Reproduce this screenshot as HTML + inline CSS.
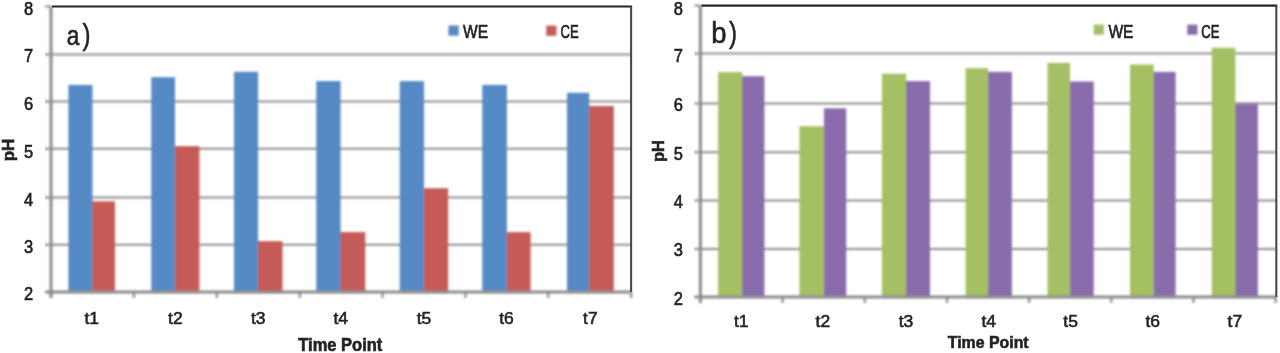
<!DOCTYPE html>
<html><head><meta charset="utf-8"><title>pH charts</title>
<style>
html,body{margin:0;padding:0;background:#fff;}
body{width:1280px;height:353px;overflow:hidden;}
svg{display:block;}
svg text{font-family:"Liberation Sans", sans-serif;fill:#222;stroke:#222;stroke-width:0.55px;}
</style></head>
<body>
<svg width="1280" height="353" viewBox="0 0 1280 353">
<defs>
<filter id="fg" x="-2%" y="-10%" width="104%" height="120%"><feGaussianBlur stdDeviation="0.7 0.85"/></filter>
<filter id="fb" x="-2%" y="-10%" width="104%" height="120%"><feGaussianBlur stdDeviation="0.8 1.0"/></filter>
<filter id="fl" x="-2%" y="-10%" width="104%" height="120%"><feGaussianBlur stdDeviation="0.8 0.9"/></filter>
<filter id="ft" x="-2%" y="-10%" width="104%" height="120%"><feGaussianBlur stdDeviation="0.45 0.6"/></filter>
<filter id="fd" x="-2%" y="-10%" width="104%" height="120%"><feGaussianBlur stdDeviation="0.5 0.55"/></filter>
</defs>
<rect width="1280" height="353" fill="#fff"/>
<g filter="url(#fg)">
<line x1="45.0" y1="54.6" x2="631.1" y2="54.6" stroke="#8e8e8e" stroke-width="2"/>
<line x1="45.0" y1="101.55" x2="631.1" y2="101.55" stroke="#8e8e8e" stroke-width="2"/>
<line x1="45.0" y1="148.85" x2="631.1" y2="148.85" stroke="#8e8e8e" stroke-width="2"/>
<line x1="45.0" y1="197.55" x2="631.1" y2="197.55" stroke="#8e8e8e" stroke-width="2"/>
<line x1="45.0" y1="244.7" x2="631.1" y2="244.7" stroke="#8e8e8e" stroke-width="2"/>
<line x1="694.4" y1="53.6" x2="1276.3" y2="53.6" stroke="#8e8e8e" stroke-width="2"/>
<line x1="694.4" y1="103.4" x2="1276.3" y2="103.4" stroke="#8e8e8e" stroke-width="2"/>
<line x1="694.4" y1="152.25" x2="1276.3" y2="152.25" stroke="#8e8e8e" stroke-width="2"/>
<line x1="694.4" y1="200.45" x2="1276.3" y2="200.45" stroke="#8e8e8e" stroke-width="2"/>
<line x1="694.4" y1="248.9" x2="1276.3" y2="248.9" stroke="#8e8e8e" stroke-width="2"/>
</g>
<g filter="url(#fb)">
<rect x="68.40" y="84.9" width="24.10" height="207.0" fill="#568AC4"/>
<rect x="92.00" y="201.3" width="1.5" height="90.6" fill="#568AC4"/>
<rect x="92.50" y="201.3" width="22.50" height="90.6" fill="#C65A56"/>
<rect x="151.25" y="77.2" width="23.75" height="214.8" fill="#568AC4"/>
<rect x="174.50" y="146.3" width="1.5" height="145.6" fill="#568AC4"/>
<rect x="175.00" y="146.3" width="24.40" height="145.6" fill="#C65A56"/>
<rect x="234.00" y="71.8" width="24.10" height="220.1" fill="#568AC4"/>
<rect x="257.60" y="241.2" width="1.5" height="50.8" fill="#568AC4"/>
<rect x="258.10" y="241.2" width="24.40" height="50.8" fill="#C65A56"/>
<rect x="316.25" y="81.1" width="24.35" height="210.8" fill="#568AC4"/>
<rect x="340.10" y="232.1" width="1.5" height="59.8" fill="#568AC4"/>
<rect x="340.60" y="232.1" width="24.65" height="59.8" fill="#C65A56"/>
<rect x="399.75" y="81.1" width="24.25" height="210.8" fill="#568AC4"/>
<rect x="423.50" y="188.2" width="1.5" height="103.8" fill="#568AC4"/>
<rect x="424.00" y="188.2" width="24.10" height="103.8" fill="#C65A56"/>
<rect x="482.25" y="84.9" width="24.65" height="207.0" fill="#568AC4"/>
<rect x="506.40" y="232.1" width="1.5" height="59.8" fill="#568AC4"/>
<rect x="506.90" y="232.1" width="23.70" height="59.8" fill="#C65A56"/>
<rect x="567.00" y="92.8" width="22.20" height="199.1" fill="#568AC4"/>
<rect x="588.70" y="106.0" width="1.5" height="185.9" fill="#568AC4"/>
<rect x="589.20" y="106.0" width="24.60" height="185.9" fill="#C65A56"/>
<rect x="448.5" y="25.5" width="10.2" height="10.2" fill="#568AC4"/>
<rect x="546.2" y="25.6" width="10.2" height="10.2" fill="#C65A56"/>
<rect x="718.10" y="72.1" width="24.15" height="224.8" fill="#A5C064"/>
<rect x="741.75" y="76.2" width="1.5" height="220.7" fill="#A5C064"/>
<rect x="742.25" y="76.2" width="22.15" height="220.7" fill="#896CAC"/>
<rect x="799.40" y="126.2" width="24.60" height="170.7" fill="#A5C064"/>
<rect x="823.50" y="126.2" width="1.5" height="170.7" fill="#A5C064"/>
<rect x="824.00" y="108.3" width="22.25" height="188.6" fill="#896CAC"/>
<rect x="881.90" y="73.7" width="24.35" height="223.2" fill="#A5C064"/>
<rect x="905.75" y="81.1" width="1.5" height="215.8" fill="#A5C064"/>
<rect x="906.25" y="81.1" width="23.75" height="215.8" fill="#896CAC"/>
<rect x="965.60" y="68.2" width="22.50" height="228.7" fill="#A5C064"/>
<rect x="987.60" y="71.9" width="1.5" height="225.0" fill="#A5C064"/>
<rect x="988.10" y="71.9" width="23.80" height="225.0" fill="#896CAC"/>
<rect x="1047.50" y="62.9" width="22.50" height="234.0" fill="#A5C064"/>
<rect x="1069.50" y="81.5" width="1.5" height="215.4" fill="#A5C064"/>
<rect x="1070.00" y="81.5" width="23.75" height="215.4" fill="#896CAC"/>
<rect x="1130.00" y="64.6" width="23.75" height="232.3" fill="#A5C064"/>
<rect x="1153.25" y="71.9" width="1.5" height="225.0" fill="#A5C064"/>
<rect x="1153.75" y="71.9" width="21.85" height="225.0" fill="#896CAC"/>
<rect x="1211.80" y="47.8" width="23.60" height="249.1" fill="#A5C064"/>
<rect x="1234.90" y="103.6" width="1.5" height="193.3" fill="#A5C064"/>
<rect x="1235.40" y="103.6" width="22.50" height="193.3" fill="#896CAC"/>
<rect x="1093.7" y="24.6" width="10.2" height="10.2" fill="#A5C064"/>
<rect x="1187.3" y="24.6" width="10.2" height="10.2" fill="#896CAC"/>
</g>
<g filter="url(#fl)">
<line x1="45.0" y1="291.95" x2="631.1" y2="291.95" stroke="#8a8a8a" stroke-width="3"/>
<line x1="51.0" y1="291.95" x2="51.0" y2="297.9" stroke="#8a8a8a" stroke-width="2.2"/>
<line x1="133.9" y1="291.95" x2="133.9" y2="297.9" stroke="#8a8a8a" stroke-width="2.2"/>
<line x1="216.8" y1="291.95" x2="216.8" y2="297.9" stroke="#8a8a8a" stroke-width="2.2"/>
<line x1="299.7" y1="291.95" x2="299.7" y2="297.9" stroke="#8a8a8a" stroke-width="2.2"/>
<line x1="382.5" y1="291.95" x2="382.5" y2="297.9" stroke="#8a8a8a" stroke-width="2.2"/>
<line x1="465.4" y1="291.95" x2="465.4" y2="297.9" stroke="#8a8a8a" stroke-width="2.2"/>
<line x1="548.3" y1="291.95" x2="548.3" y2="297.9" stroke="#8a8a8a" stroke-width="2.2"/>
<line x1="631.2" y1="291.95" x2="631.2" y2="297.9" stroke="#8a8a8a" stroke-width="2.2"/>
<line x1="45.0" y1="6.5" x2="51.0" y2="6.5" stroke="#8a8a8a" stroke-width="2"/>
<line x1="51.0" y1="6.5" x2="51.0" y2="297.9" stroke="#8a8a8a" stroke-width="3"/>
<line x1="694.4" y1="296.9" x2="1276.3" y2="296.9" stroke="#8a8a8a" stroke-width="3"/>
<line x1="700.4" y1="296.9" x2="700.4" y2="302.9" stroke="#8a8a8a" stroke-width="2.2"/>
<line x1="782.6" y1="296.9" x2="782.6" y2="302.9" stroke="#8a8a8a" stroke-width="2.2"/>
<line x1="864.8" y1="296.9" x2="864.8" y2="302.9" stroke="#8a8a8a" stroke-width="2.2"/>
<line x1="947.0" y1="296.9" x2="947.0" y2="302.9" stroke="#8a8a8a" stroke-width="2.2"/>
<line x1="1029.1" y1="296.9" x2="1029.1" y2="302.9" stroke="#8a8a8a" stroke-width="2.2"/>
<line x1="1111.3" y1="296.9" x2="1111.3" y2="302.9" stroke="#8a8a8a" stroke-width="2.2"/>
<line x1="1193.5" y1="296.9" x2="1193.5" y2="302.9" stroke="#8a8a8a" stroke-width="2.2"/>
<line x1="1275.7" y1="296.9" x2="1275.7" y2="302.9" stroke="#8a8a8a" stroke-width="2.2"/>
<line x1="694.4" y1="5.6" x2="700.4" y2="5.6" stroke="#8a8a8a" stroke-width="2"/>
<line x1="700.4" y1="5.6" x2="700.4" y2="302.9" stroke="#8a8a8a" stroke-width="3"/>
</g>
<g filter="url(#fd)">
<line x1="52.0" y1="6.5" x2="632.1" y2="6.5" stroke="#262626" stroke-width="2.1"/>
<line x1="631.1" y1="6.5" x2="631.1" y2="291.95" stroke="#4a4a4a" stroke-width="2.1"/>
<line x1="701.4" y1="5.6" x2="1277.3" y2="5.6" stroke="#262626" stroke-width="2.1"/>
<line x1="1276.3" y1="5.6" x2="1276.3" y2="296.9" stroke="#4a4a4a" stroke-width="2.1"/>
</g>
<g filter="url(#ft)">
<text transform="translate(33.20 15.05) scale(1.000 1.090)" font-size="16.5" text-anchor="end">8</text>
<text transform="translate(33.20 62.00) scale(1.000 1.090)" font-size="16.5" text-anchor="end">7</text>
<text transform="translate(33.20 110.00) scale(1.000 1.090)" font-size="16.5" text-anchor="end">6</text>
<text transform="translate(33.20 157.70) scale(1.000 1.090)" font-size="16.5" text-anchor="end">5</text>
<text transform="translate(33.20 206.00) scale(1.000 1.090)" font-size="16.5" text-anchor="end">4</text>
<text transform="translate(33.20 252.60) scale(1.000 1.090)" font-size="16.5" text-anchor="end">3</text>
<text transform="translate(33.20 300.20) scale(1.000 1.090)" font-size="16.5" text-anchor="end">2</text>
<text transform="translate(91.70 323.75) scale(1.060 0.960)" font-size="16.5" text-anchor="middle" stroke-width="0.65">t1</text>
<text transform="translate(175.32 323.75) scale(1.060 0.960)" font-size="16.5" text-anchor="middle" stroke-width="0.65">t2</text>
<text transform="translate(258.25 323.75) scale(1.060 0.960)" font-size="16.5" text-anchor="middle" stroke-width="0.65">t3</text>
<text transform="translate(340.75 323.75) scale(1.060 0.960)" font-size="16.5" text-anchor="middle" stroke-width="0.65">t4</text>
<text transform="translate(423.93 323.75) scale(1.060 0.960)" font-size="16.5" text-anchor="middle" stroke-width="0.65">t5</text>
<text transform="translate(506.43 323.75) scale(1.060 0.960)" font-size="16.5" text-anchor="middle" stroke-width="0.65">t6</text>
<text transform="translate(590.40 323.75) scale(1.060 0.960)" font-size="16.5" text-anchor="middle" stroke-width="0.65">t7</text>
<text transform="translate(340.30 351.00) scale(1.000 1.120)" font-size="16.5" text-anchor="middle" font-weight="bold" stroke-width="0.05">Time Point</text>
<text transform="translate(13.80 150.00) rotate(-90) scale(1.030 1.000)" font-size="16.5" text-anchor="middle" font-weight="bold" stroke-width="0.05">pH</text>
<text transform="translate(73.10 45.00) scale(0.835 1.000)" font-size="27.2" text-anchor="middle" stroke-width="0.45">a</text>
<text transform="translate(86.60 45.00) scale(0.800 1.000)" font-size="30.1" text-anchor="middle" stroke-width="0.45">)</text>
<text transform="translate(463.00 38.30) scale(1.040 1.170)" font-size="15" fill="#2a2a2a" stroke="#2a2a2a" stroke-width="0.7">WE</text>
<text transform="translate(560.60 38.30) scale(0.870 1.170)" font-size="15" fill="#2a2a2a" stroke="#2a2a2a" stroke-width="0.7">CE</text>
<text transform="translate(682.80 14.75) scale(1.000 1.090)" font-size="16.5" text-anchor="end">8</text>
<text transform="translate(682.80 62.00) scale(1.000 1.090)" font-size="16.5" text-anchor="end">7</text>
<text transform="translate(682.80 111.30) scale(1.000 1.090)" font-size="16.5" text-anchor="end">6</text>
<text transform="translate(682.80 159.60) scale(1.000 1.090)" font-size="16.5" text-anchor="end">5</text>
<text transform="translate(682.80 208.30) scale(1.000 1.090)" font-size="16.5" text-anchor="end">4</text>
<text transform="translate(682.80 256.00) scale(1.000 1.090)" font-size="16.5" text-anchor="end">3</text>
<text transform="translate(682.80 304.70) scale(1.000 1.090)" font-size="16.5" text-anchor="end">2</text>
<text transform="translate(741.25 326.70) scale(1.060 0.970)" font-size="16.5" text-anchor="middle" stroke-width="0.65">t1</text>
<text transform="translate(822.83 326.70) scale(1.060 0.970)" font-size="16.5" text-anchor="middle" stroke-width="0.65">t2</text>
<text transform="translate(905.95 326.70) scale(1.060 0.970)" font-size="16.5" text-anchor="middle" stroke-width="0.65">t3</text>
<text transform="translate(988.75 326.70) scale(1.060 0.970)" font-size="16.5" text-anchor="middle" stroke-width="0.65">t4</text>
<text transform="translate(1070.62 326.70) scale(1.060 0.970)" font-size="16.5" text-anchor="middle" stroke-width="0.65">t5</text>
<text transform="translate(1152.80 326.70) scale(1.060 0.970)" font-size="16.5" text-anchor="middle" stroke-width="0.65">t6</text>
<text transform="translate(1234.85 326.70) scale(1.060 0.970)" font-size="16.5" text-anchor="middle" stroke-width="0.65">t7</text>
<text transform="translate(988.20 348.40) scale(1.000 1.010)" font-size="15.9" text-anchor="middle" font-weight="bold" stroke-width="0.05">Time Point</text>
<text transform="translate(663.90 151.00) rotate(-90)" font-size="16.5" text-anchor="middle" font-weight="bold" stroke-width="0.05">pH</text>
<text transform="translate(718.90 43.10) scale(0.930 1.000)" font-size="29.5" text-anchor="middle" stroke-width="0.45">b</text>
<text transform="translate(733.10 43.10) scale(0.800 1.000)" font-size="30.1" text-anchor="middle" stroke-width="0.45">)</text>
<text transform="translate(1108.40 37.90) scale(1.040 1.170)" font-size="15" fill="#2a2a2a" stroke="#2a2a2a" stroke-width="0.7">WE</text>
<text transform="translate(1201.30 37.90) scale(0.870 1.170)" font-size="15" fill="#2a2a2a" stroke="#2a2a2a" stroke-width="0.7">CE</text>
</g>
</svg>
</body></html>
